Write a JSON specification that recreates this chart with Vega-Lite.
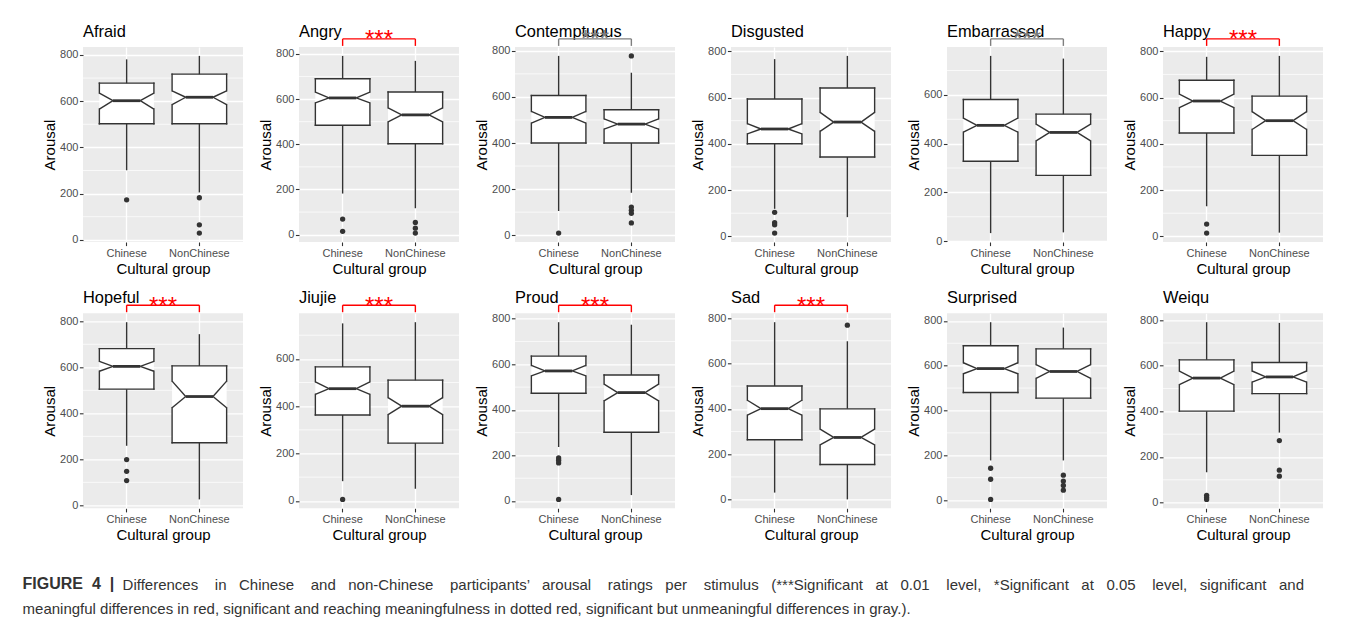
{
  "$schema": "https://vega.github.io/schema/vega-lite/v6.json",
  "background": "white",
  "padding": {"left": 22, "top": 23, "right": 5, "bottom": 5},
  "data": {
    "values": [
      {"e": "Afraid", "g": "Chinese", "lower": 301, "q1": 502, "nlo": 566, "med": 602, "nhi": 635, "q3": 678, "upper": 781, "out": [173]},
      {"e": "Afraid", "g": "NonChinese", "lower": 205, "q1": 502, "nlo": 585, "med": 617, "nhi": 645, "q3": 717, "upper": 796, "out": [182, 65, 29]},
      {"e": "Angry", "g": "Chinese", "lower": 182, "q1": 484, "nlo": 583, "med": 605, "nhi": 631, "q3": 690, "upper": 791, "out": [69, 15], "sig": "***", "diff": "meaningful"},
      {"e": "Angry", "g": "NonChinese", "lower": 117, "q1": 402, "nlo": 499, "med": 530, "nhi": 561, "q3": 631, "upper": 769, "out": [54, 29, 7], "sig": "***", "diff": "meaningful"},
      {"e": "Contemptuous", "g": "Chinese", "lower": 105, "q1": 400, "nlo": 486, "med": 511, "nhi": 537, "q3": 606, "upper": 778, "out": [9], "sig": "***", "diff": "unmeaningful"},
      {"e": "Contemptuous", "g": "NonChinese", "lower": 184, "q1": 400, "nlo": 460, "med": 482, "nhi": 505, "q3": 544, "upper": 705, "out": [778, 122, 108, 95, 53], "sig": "***", "diff": "unmeaningful"},
      {"e": "Disgusted", "g": "Chinese", "lower": 119, "q1": 400, "nlo": 443, "med": 464, "nhi": 487, "q3": 594, "upper": 766, "out": [104, 59, 50, 14]},
      {"e": "Disgusted", "g": "NonChinese", "lower": 83, "q1": 343, "nlo": 454, "med": 494, "nhi": 536, "q3": 641, "upper": 780, "out": []},
      {"e": "Embarrassed", "g": "Chinese", "lower": 33, "q1": 328, "nlo": 447, "med": 475, "nhi": 505, "q3": 581, "upper": 760, "out": [], "sig": "***", "diff": "unmeaningful"},
      {"e": "Embarrassed", "g": "NonChinese", "lower": 36, "q1": 270, "nlo": 411, "med": 446, "nhi": 480, "q3": 521, "upper": 749, "out": [], "sig": "***", "diff": "unmeaningful"},
      {"e": "Happy", "g": "Chinese", "lower": 130, "q1": 447, "nlo": 556, "med": 585, "nhi": 615, "q3": 675, "upper": 776, "out": [53, 14], "sig": "***", "diff": "meaningful"},
      {"e": "Happy", "g": "NonChinese", "lower": 16, "q1": 350, "nlo": 462, "med": 500, "nhi": 539, "q3": 606, "upper": 780, "out": [], "sig": "***", "diff": "meaningful"},
      {"e": "Hopeful", "g": "Chinese", "lower": 259, "q1": 505, "nlo": 583, "med": 604, "nhi": 626, "q3": 681, "upper": 796, "out": [199, 148, 108], "sig": "***", "diff": "meaningful"},
      {"e": "Hopeful", "g": "NonChinese", "lower": 26, "q1": 272, "nlo": 424, "med": 473, "nhi": 540, "q3": 606, "upper": 744, "out": [], "sig": "***", "diff": "meaningful"},
      {"e": "Jiujie", "g": "Chinese", "lower": 83, "q1": 363, "nlo": 450, "med": 474, "nhi": 503, "q3": 566, "upper": 750, "out": [6], "sig": "***", "diff": "meaningful"},
      {"e": "Jiujie", "g": "NonChinese", "lower": 51, "q1": 244, "nlo": 364, "med": 400, "nhi": 436, "q3": 510, "upper": 755, "out": [], "sig": "***", "diff": "meaningful"},
      {"e": "Proud", "g": "Chinese", "lower": 237, "q1": 473, "nlo": 549, "med": 571, "nhi": 595, "q3": 636, "upper": 785, "out": [189, 179, 167, 7], "sig": "***", "diff": "meaningful"},
      {"e": "Proud", "g": "NonChinese", "lower": 26, "q1": 302, "nlo": 440, "med": 476, "nhi": 513, "q3": 553, "upper": 774, "out": [], "sig": "***", "diff": "meaningful"},
      {"e": "Sad", "g": "Chinese", "lower": 31, "q1": 264, "nlo": 372, "med": 401, "nhi": 438, "q3": 501, "upper": 782, "out": [], "sig": "***", "diff": "meaningful"},
      {"e": "Sad", "g": "NonChinese", "lower": 1, "q1": 155, "nlo": 241, "med": 274, "nhi": 311, "q3": 400, "upper": 698, "out": [769], "sig": "***", "diff": "meaningful"},
      {"e": "Surprised", "g": "Chinese", "lower": 177, "q1": 480, "nlo": 564, "med": 587, "nhi": 613, "q3": 689, "upper": 794, "out": [142, 93, 3]},
      {"e": "Surprised", "g": "NonChinese", "lower": 177, "q1": 455, "nlo": 543, "med": 574, "nhi": 605, "q3": 675, "upper": 770, "out": [111, 85, 65, 44]},
      {"e": "Weiqu", "g": "Chinese", "lower": 133, "q1": 401, "nlo": 517, "med": 546, "nhi": 577, "q3": 626, "upper": 791, "out": [32, 22, 14]},
      {"e": "Weiqu", "g": "NonChinese", "lower": 307, "q1": 478, "nlo": 528, "med": 551, "nhi": 577, "q3": 614, "upper": 788, "out": [272, 142, 116]}
    ]
  },
  "facet": {
    "field": "e",
    "type": "nominal",
    "sort": ["Afraid", "Angry", "Contemptuous", "Disgusted", "Embarrassed", "Happy", "Hopeful", "Jiujie", "Proud", "Sad", "Surprised", "Weiqu"],
    "header": {"title": null, "labels": false, "labelExpr": "''", "labelFontSize": 1, "labelPadding": 0}
  },
  "columns": 6,
  "bounds": "flush",
  "spacing": {"column": 56, "row": 71.3},
  "resolve": {"scale": {"y": "independent"}, "axis": {"x": "independent", "y": "independent"}},
  "title": {
    "text": "FIGURE \u00a04 \u00a0|",
    "subtitle": [
      "\u200b\u00a0\u00a0\u00a0\u00a0\u00a0\u00a0\u00a0\u00a0\u00a0\u00a0\u00a0\u00a0\u00a0\u00a0\u00a0\u00a0\u00a0\u00a0\u00a0\u00a0\u00a0\u00a0\u00a0\u00a0Differences \u00a0\u00a0\u00a0in \u00a0\u00a0Chinese \u00a0\u00a0\u00a0and \u00a0\u00a0non-Chinese \u00a0\u00a0\u00a0participants’ \u00a0\u00a0arousal \u00a0\u00a0\u00a0ratings \u00a0\u00a0per \u00a0\u00a0\u00a0stimulus \u00a0\u00a0(***Significant \u00a0\u00a0at \u00a0\u00a00.01 \u00a0\u00a0\u00a0level, \u00a0\u00a0*Significant \u00a0\u00a0at \u00a0\u00a00.05 \u00a0\u00a0\u00a0level, \u00a0\u00a0significant \u00a0\u00a0and",
      "meaningful differences in red, significant and reaching meaningfulness in dotted red, significant but unmeaningful differences in gray.)."
    ],
    "orient": "bottom",
    "anchor": "start",
    "frame": "bounds",
    "offset": 34,
    "dx": -20,
    "font": "Liberation Sans",
    "fontSize": 16,
    "fontWeight": "bold",
    "color": "#333333",
    "lineHeight": 15,
    "subtitleFont": "Liberation Sans",
    "subtitleFontSize": 15,
    "subtitleFontWeight": "normal",
    "subtitleColor": "#333333",
    "subtitleLineHeight": 24,
    "subtitlePadding": -14.2
  },
  "spec": {
    "width": 160,
    "height": 195,
    "layer": [
      {
        "transform": [{"filter": "datum.g === 'Chinese'"}],
        "mark": {"type": "rule", "color": "#FFFFFF", "strokeWidth": 0.7},
        "encoding": {"y": {"datum": 100, "type": "quantitative", "title": "Arousal"}}
      },
      {
        "transform": [{"filter": "datum.g === 'Chinese'"}],
        "mark": {"type": "rule", "color": "#FFFFFF", "strokeWidth": 0.7},
        "encoding": {"y": {"datum": 300, "type": "quantitative", "title": "Arousal"}}
      },
      {
        "transform": [{"filter": "datum.g === 'Chinese'"}],
        "mark": {"type": "rule", "color": "#FFFFFF", "strokeWidth": 0.7},
        "encoding": {"y": {"datum": 500, "type": "quantitative", "title": "Arousal"}}
      },
      {
        "transform": [{"filter": "datum.g === 'Chinese'"}],
        "mark": {"type": "rule", "color": "#FFFFFF", "strokeWidth": 0.7},
        "encoding": {"y": {"datum": 700, "type": "quantitative", "title": "Arousal"}}
      },
      {
        "mark": {"type": "rule", "color": "#333333", "strokeWidth": 1.4},
        "encoding": {
          "x": {"field": "g", "type": "nominal", "scale": {"type": "band", "domain": ["Chinese", "NonChinese"], "paddingInner": 0.25, "paddingOuter": 0.225}, "bandPosition": 0.5, "title": "Cultural group"},
          "y": {"field": "lower", "type": "quantitative", "scale": {"zero": false, "nice": false, "padding": 8.9}, "title": "Arousal"},
          "y2": {"field": "upper"}
        }
      },
      {
        "mark": {"type": "bar", "fill": "#FFFFFF"},
        "encoding": {
          "x": {"field": "g", "type": "nominal", "scale": {"type": "band", "domain": ["Chinese", "NonChinese"], "paddingInner": 0.25, "paddingOuter": 0.225}, "bandPosition": 0, "title": "Cultural group"},
          "x2": {"field": "g", "bandPosition": 1},
          "y": {"field": "q1", "type": "quantitative", "title": "Arousal"},
          "y2": {"field": "q3"}
        }
      },
      {
        "mark": {"type": "rule", "color": "#333333", "strokeWidth": 1.4, "strokeCap": "square"},
        "encoding": {
          "x": {"field": "g", "type": "nominal", "scale": {"type": "band", "domain": ["Chinese", "NonChinese"], "paddingInner": 0.25, "paddingOuter": 0.225}, "bandPosition": 0, "title": "Cultural group"},
          "x2": {"field": "g", "bandPosition": 1},
          "y": {"field": "q3", "type": "quantitative", "title": "Arousal"}
        }
      },
      {
        "mark": {"type": "rule", "color": "#333333", "strokeWidth": 1.4, "strokeCap": "square"},
        "encoding": {
          "x": {"field": "g", "type": "nominal", "scale": {"type": "band", "domain": ["Chinese", "NonChinese"], "paddingInner": 0.25, "paddingOuter": 0.225}, "bandPosition": 0, "title": "Cultural group"},
          "x2": {"field": "g", "bandPosition": 1},
          "y": {"field": "q1", "type": "quantitative", "title": "Arousal"}
        }
      },
      {
        "mark": {"type": "rule", "color": "#333333", "strokeWidth": 1.4, "strokeCap": "square"},
        "encoding": {
          "x": {"field": "g", "type": "nominal", "scale": {"type": "band", "domain": ["Chinese", "NonChinese"], "paddingInner": 0.25, "paddingOuter": 0.225}, "bandPosition": 0, "title": "Cultural group"},
          "y": {"field": "q1", "type": "quantitative", "title": "Arousal"},
          "y2": {"field": "nlo"}
        }
      },
      {
        "mark": {"type": "rule", "color": "#333333", "strokeWidth": 1.4, "strokeCap": "square"},
        "encoding": {
          "x": {"field": "g", "type": "nominal", "scale": {"type": "band", "domain": ["Chinese", "NonChinese"], "paddingInner": 0.25, "paddingOuter": 0.225}, "bandPosition": 0, "title": "Cultural group"},
          "y": {"field": "nhi", "type": "quantitative", "title": "Arousal"},
          "y2": {"field": "q3"}
        }
      },
      {
        "mark": {"type": "rule", "color": "#333333", "strokeWidth": 1.4, "strokeCap": "square"},
        "encoding": {
          "x": {"field": "g", "type": "nominal", "scale": {"type": "band", "domain": ["Chinese", "NonChinese"], "paddingInner": 0.25, "paddingOuter": 0.225}, "bandPosition": 1, "title": "Cultural group"},
          "y": {"field": "q1", "type": "quantitative", "title": "Arousal"},
          "y2": {"field": "nlo"}
        }
      },
      {
        "mark": {"type": "rule", "color": "#333333", "strokeWidth": 1.4, "strokeCap": "square"},
        "encoding": {
          "x": {"field": "g", "type": "nominal", "scale": {"type": "band", "domain": ["Chinese", "NonChinese"], "paddingInner": 0.25, "paddingOuter": 0.225}, "bandPosition": 1, "title": "Cultural group"},
          "y": {"field": "nhi", "type": "quantitative", "title": "Arousal"},
          "y2": {"field": "q3"}
        }
      },
      {
        "mark": {"type": "rule", "color": "#333333", "strokeWidth": 1.4},
        "encoding": {
          "x": {"field": "g", "type": "nominal", "scale": {"type": "band", "domain": ["Chinese", "NonChinese"], "paddingInner": 0.25, "paddingOuter": 0.225}, "bandPosition": 0, "title": "Cultural group"},
          "x2": {"field": "g", "bandPosition": 0.25},
          "y": {"field": "nlo", "type": "quantitative", "title": "Arousal"},
          "y2": {"field": "med"}
        }
      },
      {
        "mark": {"type": "rule", "color": "#333333", "strokeWidth": 1.4},
        "encoding": {
          "x": {"field": "g", "type": "nominal", "scale": {"type": "band", "domain": ["Chinese", "NonChinese"], "paddingInner": 0.25, "paddingOuter": 0.225}, "bandPosition": 0, "title": "Cultural group"},
          "x2": {"field": "g", "bandPosition": 0.25},
          "y": {"field": "nhi", "type": "quantitative", "title": "Arousal"},
          "y2": {"field": "med"}
        }
      },
      {
        "mark": {"type": "rule", "color": "#333333", "strokeWidth": 1.4},
        "encoding": {
          "x": {"field": "g", "type": "nominal", "scale": {"type": "band", "domain": ["Chinese", "NonChinese"], "paddingInner": 0.25, "paddingOuter": 0.225}, "bandPosition": 1, "title": "Cultural group"},
          "x2": {"field": "g", "bandPosition": 0.75},
          "y": {"field": "nlo", "type": "quantitative", "title": "Arousal"},
          "y2": {"field": "med"}
        }
      },
      {
        "mark": {"type": "rule", "color": "#333333", "strokeWidth": 1.4},
        "encoding": {
          "x": {"field": "g", "type": "nominal", "scale": {"type": "band", "domain": ["Chinese", "NonChinese"], "paddingInner": 0.25, "paddingOuter": 0.225}, "bandPosition": 1, "title": "Cultural group"},
          "x2": {"field": "g", "bandPosition": 0.75},
          "y": {"field": "nhi", "type": "quantitative", "title": "Arousal"},
          "y2": {"field": "med"}
        }
      },
      {
        "mark": {"type": "rule", "color": "#333333", "strokeWidth": 2.8},
        "encoding": {
          "x": {"field": "g", "type": "nominal", "scale": {"type": "band", "domain": ["Chinese", "NonChinese"], "paddingInner": 0.25, "paddingOuter": 0.225}, "bandPosition": 0.25, "title": "Cultural group"},
          "x2": {"field": "g", "bandPosition": 0.75},
          "y": {"field": "med", "type": "quantitative", "title": "Arousal"}
        }
      },
      {
        "transform": [{"flatten": ["out"]}],
        "mark": {"type": "circle", "color": "#333333", "opacity": 1, "size": 28},
        "encoding": {
          "x": {"field": "g", "type": "nominal", "scale": {"type": "band", "domain": ["Chinese", "NonChinese"], "paddingInner": 0.25, "paddingOuter": 0.225}, "bandPosition": 0.5, "title": "Cultural group"},
          "y": {"field": "out", "type": "quantitative", "title": "Arousal"}
        }
      },
      {
        "transform": [
          {"joinaggregate": [{"op": "max", "field": "upper", "as": "top"}], "groupby": ["e"]},
          {"filter": "datum.g === 'Chinese'"}
        ],
        "mark": {"type": "text", "fontSize": 16.4, "align": "left", "baseline": "alphabetic", "yOffset": -18.9, "color": "#000000", "font": "Liberation Sans"},
        "encoding": {
          "x": {"datum": "Chinese", "type": "nominal", "scale": {"type": "band", "domain": ["Chinese", "NonChinese"], "paddingInner": 0.25, "paddingOuter": 0.225}, "bandPosition": -0.3, "title": "Cultural group"},
          "y": {"field": "top", "type": "quantitative", "title": "Arousal"},
          "text": {"field": "e"}
        }
      },
      {
        "transform": [
          {"joinaggregate": [{"op": "max", "field": "upper", "as": "top"}], "groupby": ["e"]},
          {"filter": "datum.g === 'Chinese' && isValid(datum.sig)"}
        ],
        "mark": {"type": "rule", "strokeWidth": 1.4, "yOffset": -17},
        "encoding": {
          "x": {"datum": "Chinese", "type": "nominal", "scale": {"type": "band", "domain": ["Chinese", "NonChinese"], "paddingInner": 0.25, "paddingOuter": 0.225}, "bandPosition": 0.5, "title": "Cultural group"},
          "x2": {"datum": "NonChinese", "bandPosition": 0.5},
          "y": {"field": "top", "type": "quantitative", "title": "Arousal"},
          "color": {"field": "diff", "type": "nominal", "scale": {"domain": ["meaningful", "unmeaningful"], "range": ["#FF0000", "#7F7F7F"]}, "legend": null}
        }
      },
      {
        "transform": [
          {"joinaggregate": [{"op": "max", "field": "upper", "as": "top"}], "groupby": ["e"]},
          {"filter": "datum.g === 'Chinese' && isValid(datum.sig)"}
        ],
        "mark": {"type": "rule", "strokeWidth": 1.4, "yOffset": -17, "y2Offset": -10},
        "encoding": {
          "x": {"datum": "Chinese", "type": "nominal", "scale": {"type": "band", "domain": ["Chinese", "NonChinese"], "paddingInner": 0.25, "paddingOuter": 0.225}, "bandPosition": 0.5, "title": "Cultural group"},
          "y": {"field": "top", "type": "quantitative", "title": "Arousal"},
          "y2": {"field": "top"},
          "color": {"field": "diff", "type": "nominal", "legend": null}
        }
      },
      {
        "transform": [
          {"joinaggregate": [{"op": "max", "field": "upper", "as": "top"}], "groupby": ["e"]},
          {"filter": "datum.g === 'Chinese' && isValid(datum.sig)"}
        ],
        "mark": {"type": "rule", "strokeWidth": 1.4, "yOffset": -17, "y2Offset": -10},
        "encoding": {
          "x": {"datum": "NonChinese", "type": "nominal", "scale": {"type": "band", "domain": ["Chinese", "NonChinese"], "paddingInner": 0.25, "paddingOuter": 0.225}, "bandPosition": 0.5, "title": "Cultural group"},
          "y": {"field": "top", "type": "quantitative", "title": "Arousal"},
          "y2": {"field": "top"},
          "color": {"field": "diff", "type": "nominal", "legend": null}
        }
      },
      {
        "transform": [
          {"joinaggregate": [{"op": "max", "field": "upper", "as": "top"}], "groupby": ["e"]},
          {"filter": "datum.g === 'Chinese' && isValid(datum.sig)"}
        ],
        "mark": {"type": "text", "fontSize": 24, "align": "center", "baseline": "alphabetic", "yOffset": -8.7, "dx": 36.4, "font": "Liberation Sans"},
        "encoding": {
          "x": {"datum": "Chinese", "type": "nominal", "scale": {"type": "band", "domain": ["Chinese", "NonChinese"], "paddingInner": 0.25, "paddingOuter": 0.225}, "bandPosition": 0.5, "title": "Cultural group"},
          "y": {"field": "top", "type": "quantitative", "title": "Arousal"},
          "text": {"field": "sig"},
          "color": {"field": "diff", "type": "nominal", "legend": null}
        }
      }
    ]
  },
  "config": {
    "font": "Liberation Sans",
    "view": {"fill": "#EBEBEB", "stroke": null},
    "header": {"labels": false, "title": null, "labelFontSize": 1, "labelPadding": 0},
    "axis": {
      "domain": false,
      "grid": true,
      "gridColor": "#FFFFFF",
      "gridWidth": 1.3,
      "tickColor": "#333333",
      "tickSize": 3.6,
      "tickWidth": 1.1,
      "labelColor": "#4D4D4D",
      "labelFont": "Liberation Sans",
      "labelFontSize": 11,
      "titleFont": "Liberation Sans",
      "titleFontSize": 15,
      "titleFontWeight": "normal",
      "titleColor": "#000000"
    },
    "axisX": {"labelAngle": 0, "labelPadding": 1.5, "titlePadding": 3, "bandPosition": 0.5},
    "axisY": {"labelPadding": 1.5, "titlePadding": 2}
  }
}
